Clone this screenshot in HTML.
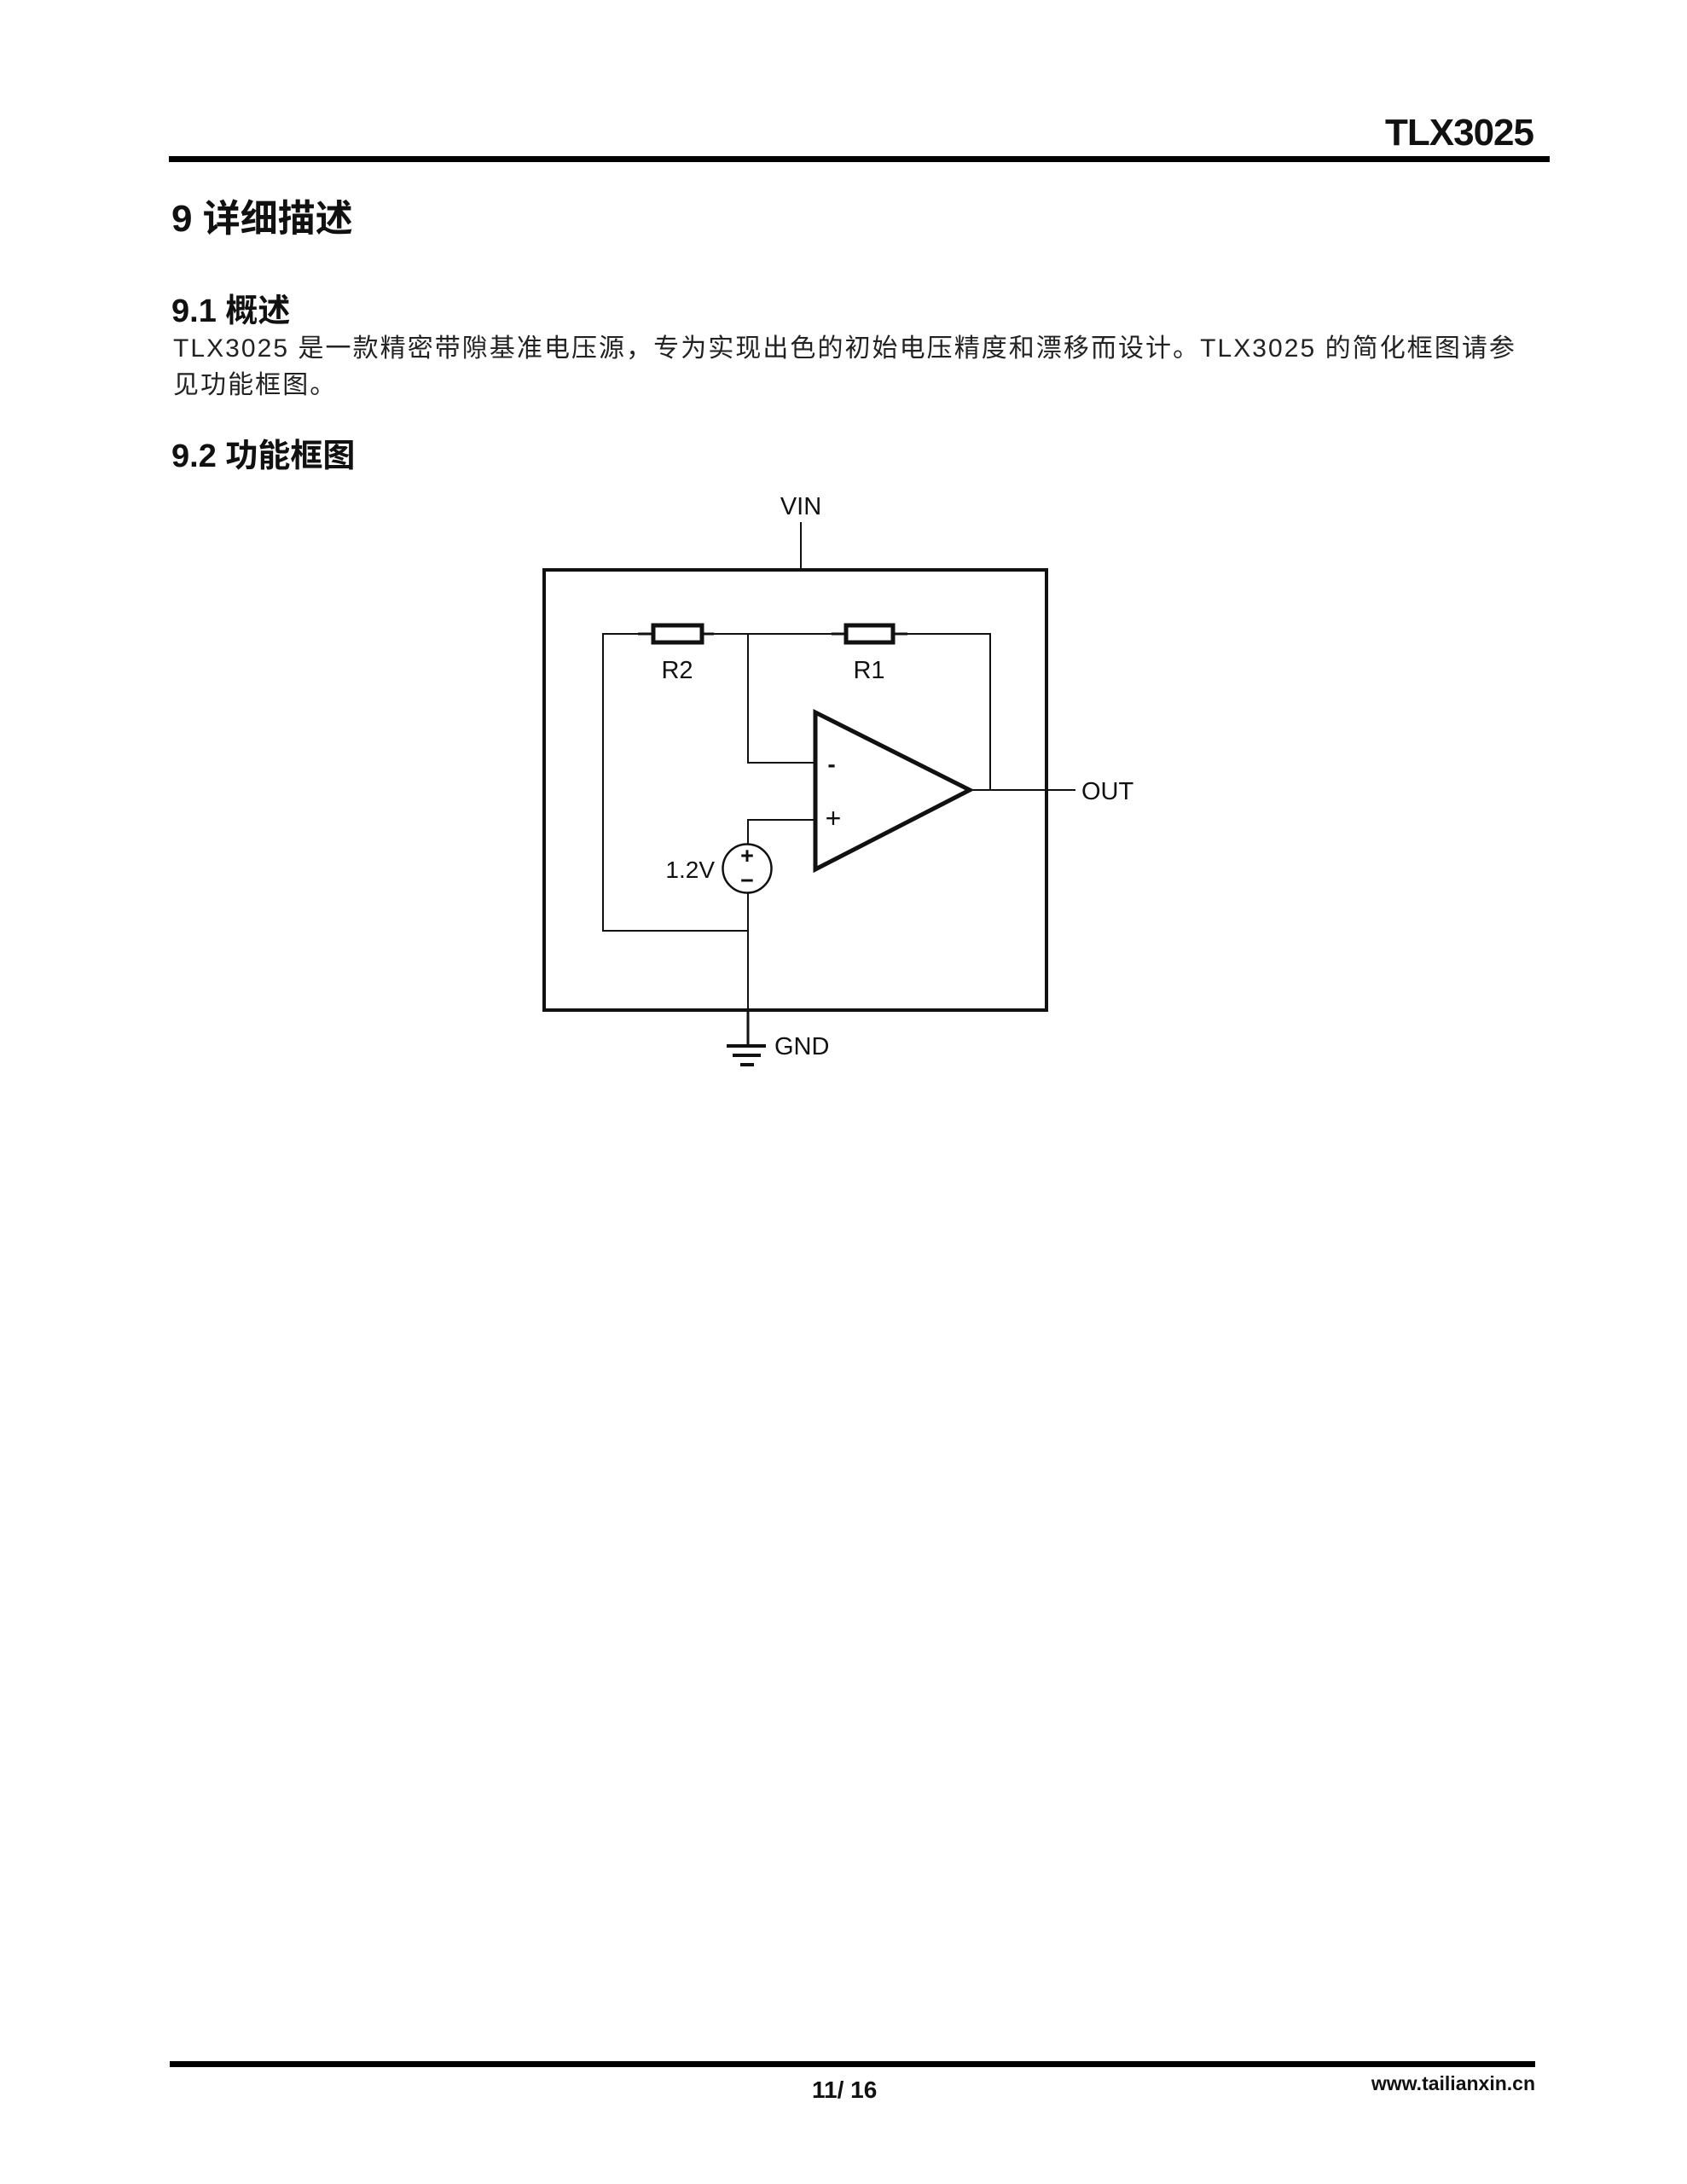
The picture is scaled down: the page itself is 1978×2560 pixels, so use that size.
<!DOCTYPE html>
<html><head><meta charset="utf-8"><style>
html,body{margin:0;padding:0;background:#fff;}
body{width:1978px;height:2560px;position:relative;overflow:hidden;font-family:"Liberation Sans","Noto Sans CJK SC",sans-serif;color:#111;}
.t{position:absolute;white-space:nowrap;line-height:1;}
</style></head><body>
<div class="t" style="right:180px;top:134px;font-size:44px;font-weight:bold;letter-spacing:-1px;">TLX3025</div>
<div style="position:absolute;left:198px;top:183px;width:1619px;height:7px;background:#000;"></div>

<div class="t" style="left:201px;top:235px;font-size:44px;font-weight:bold;">9 详细描述</div>
<div class="t" style="left:201px;top:346px;font-size:38px;font-weight:bold;">9.1 概述</div>
<div class="t" style="left:203px;top:394px;font-size:30px;letter-spacing:2.05px;color:#222;">TLX3025 是一款精密带隙基准电压源，专为实现出色的初始电压精度和漂移而设计。TLX3025 的简化框图请参</div>
<div class="t" style="left:203px;top:437px;font-size:30px;letter-spacing:2.05px;color:#222;">见功能框图。</div>
<div class="t" style="left:201px;top:516px;font-size:38px;font-weight:bold;">9.2 功能框图</div>

<svg style="position:absolute;left:0;top:0" width="1978" height="2560" viewBox="0 0 1978 2560">
<g font-family="Liberation Sans, sans-serif" fill="#111">
<text x="939" y="603" font-size="29" text-anchor="middle">VIN</text>
<text x="794" y="795" font-size="29" text-anchor="middle">R2</text>
<text x="1019" y="795" font-size="29" text-anchor="middle">R1</text>
<text x="1268" y="937" font-size="29">OUT</text>
<text x="838" y="1029" font-size="28" text-anchor="end">1.2V</text>
<text x="908" y="1236" font-size="29">GND</text>
<text x="975" y="905" font-size="28" font-weight="bold" text-anchor="middle">-</text>
<text x="977" y="970" font-size="32" text-anchor="middle">+</text>
<text x="876" y="1012" font-size="27" font-weight="bold" text-anchor="middle">+</text>
<text x="876" y="1041" font-size="27" font-weight="bold" text-anchor="middle">−</text>
</g>
<g stroke="#111" fill="none" stroke-width="2">
<line x1="939" y1="612" x2="939" y2="668"/>
<polyline points="748,743 707,743 707,1091 877,1091"/>
<line x1="837" y1="743" x2="975" y2="743"/>
<polyline points="1064,743 1161,743 1161,926"/>
<polyline points="877,743 877,894 956,894"/>
<polyline points="956,961 877,961 877,990"/>
<line x1="877" y1="1047" x2="877" y2="1184"/>
<line x1="1137" y1="926" x2="1261" y2="926"/>
<circle cx="876" cy="1018" r="28.5" stroke-width="2.5"/>
</g>
<rect x="638" y="668" width="589" height="516" fill="none" stroke="#111" stroke-width="4"/>
<rect x="766" y="733" width="57" height="20" fill="none" stroke="#111" stroke-width="5"/>
<rect x="992" y="733" width="55" height="20" fill="none" stroke="#111" stroke-width="5"/>
<line x1="748" y1="743" x2="766" y2="743" stroke="#111" stroke-width="3"/>
<line x1="823" y1="743" x2="837" y2="743" stroke="#111" stroke-width="3"/>
<line x1="975" y1="743" x2="992" y2="743" stroke="#111" stroke-width="3"/>
<line x1="1047" y1="743" x2="1064" y2="743" stroke="#111" stroke-width="3"/>
<polygon points="956,835 956,1019 1137,926" fill="none" stroke="#111" stroke-width="5" stroke-linejoin="miter"/>
<line x1="877" y1="1184" x2="877" y2="1226" stroke="#111" stroke-width="3"/>
<line x1="852" y1="1226" x2="898" y2="1226" stroke="#111" stroke-width="4"/>
<line x1="859" y1="1237" x2="892" y2="1237" stroke="#111" stroke-width="4"/>
<line x1="868" y1="1248" x2="884" y2="1248" stroke="#111" stroke-width="4"/>
</svg>

<div style="position:absolute;left:199px;top:2416px;width:1601px;height:7px;background:#000;"></div>
<div class="t" style="left:952px;top:2436px;font-size:28px;font-weight:bold;">11/ 16</div>
<div class="t" style="right:178px;top:2431px;font-size:23px;font-weight:bold;">www.tailianxin.cn</div>
</body></html>
